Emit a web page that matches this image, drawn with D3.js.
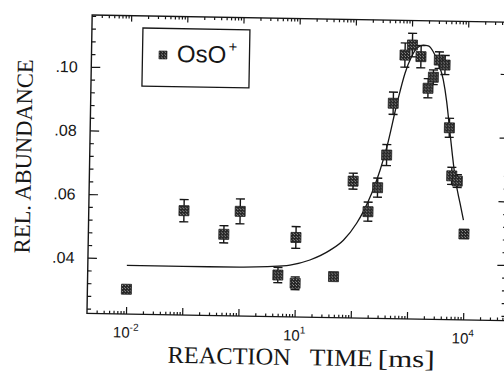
<!DOCTYPE html>
<html>
<head>
<meta charset="utf-8">
<script src="https://cdn.jsdelivr.net/npm/d3@7"></script>
<style>
body{margin:0;background:#fff;}
svg{display:block;}
</style>
</head>
<body>
<div class="canvas"></div>
<script>
//measured OsO+ points: reaction time (ms), relative abundance, error bar half-height
var times = [0.01, 0.1, 0.52, 1.0, 4.9, 10, 10, 48, 100, 188, 274, 388, 490, 766, 1030, 1475, 2015, 2483, 3133, 3980, 4970, 5660, 7140, 9750];
var abundance = [0.0303, 0.0553, 0.0481, 0.0554, 0.0356, 0.0331, 0.0475, 0.0354, 0.0655, 0.0560, 0.0636, 0.0739, 0.0902, 0.1054, 0.1086, 0.1050, 0.0951, 0.0986, 0.1040, 0.1025, 0.0828, 0.0677, 0.0661, 0.0495];
var errors = [0, 0.0035, 0.0027, 0.0039, 0.0024, 0.002, 0.0034, 0, 0.0025, 0.003, 0.003, 0.0033, 0.0035, 0.0038, 0.0037, 0.0035, 0.003, 0.0023, 0.0026, 0.003, 0.003, 0.0027, 0.002, 0.0012];

//fitted curve
var fitTimes = [0.01, 0.1, 1, 3.2, 8, 18, 41, 70, 119, 155, 216, 299, 386, 580, 776, 1000, 1233, 1607, 1972, 2432, 3013, 3741, 4365, 5012, 5754, 6607, 8128, 9441];
var fitValues = [0.0378, 0.0378, 0.0379, 0.0382, 0.0388, 0.0405, 0.0437, 0.0469, 0.0523, 0.0560, 0.0618, 0.0691, 0.0762, 0.0907, 0.0997, 0.1049, 0.1076, 0.1086, 0.1084, 0.1066, 0.1030, 0.0978, 0.0910, 0.0825, 0.0740, 0.0665, 0.0591, 0.0539];

//axis labelling
var yTickValues = [0.04, 0.06, 0.08, 0.10];
var yTickLabels = ['.04', '.06', '.08', '.10'];
var xLabelExponents = ['-2', '1', '4'];
var seriesName = 'OsO';
var seriesCharge = '+';

var pageWidth = 504, pageHeight = 374;
var plot = {l:89.5, r:508, t:18.5, b:317};
var ink = '#161616';

var svg = d3.select('.canvas')
    .append('svg')
    .attr('width', pageWidth)
    .attr('height', pageHeight);

//grainy fill for the square markers
var pat = svg.append('defs').append('pattern')
    .attr('id', 'stipple')
    .attr('width', 3).attr('height', 3)
    .attr('patternUnits', 'userSpaceOnUse');
pat.append('rect').attr('width', 3).attr('height', 3).attr('fill', '#262626');
pat.append('rect').attr('x', 1).attr('y', 0).attr('width', 1).attr('height', 1).attr('fill', '#9a9a9a');
pat.append('rect').attr('x', 0).attr('y', 2).attr('width', 1).attr('height', 1).attr('fill', '#777');

//the scanned figure sits tilted by about one degree
var chart = svg.append('g').attr('transform', 'rotate(1,295,170)');

var x = d3.scaleLog().domain([0.00202, 56600]).range([plot.l, plot.r]);
var y = d3.scaleLinear().domain([0.0225, 0.1163]).range([plot.b, plot.t]);

function isDecade(d){
    var e = Math.log10(d);
    return Math.abs(e - Math.round(e)) < 1e-6;
}
function isMajorY(d){
    return Math.abs(d / 0.02 - Math.round(d / 0.02)) < 1e-6;
}

//frame
chart.append('rect')
    .attr('x', plot.l).attr('y', plot.t)
    .attr('width', plot.r - plot.l).attr('height', plot.b - plot.t)
    .attr('fill', 'none').attr('stroke', ink).attr('stroke-width', 1.4);

//log ticks along bottom and top, pointing inward
var xTicks = x.ticks();
var bottomAxis = chart.append('g')
    .attr('transform', 'translate(0,' + plot.b + ')')
    .call(d3.axisBottom(x).tickValues(xTicks).tickSize(-3).tickFormat(''));
bottomAxis.selectAll('.tick line').attr('y2', function(d){ return isDecade(d) ? -7 : -3; });

var topAxis = chart.append('g')
    .attr('transform', 'translate(0,' + plot.t + ')')
    .call(d3.axisTop(x).tickValues(xTicks).tickSize(-3).tickFormat(''));
topAxis.selectAll('.tick line').attr('y2', function(d){ return isDecade(d) ? 6 : 3; });

//linear ticks left and right, minor every .004
var yTicks = d3.range(6, 30).map(function(k){ return k * 0.004; });
var leftAxis = chart.append('g')
    .attr('transform', 'translate(' + plot.l + ',0)')
    .call(d3.axisLeft(y).tickValues(yTicks).tickSize(-4).tickFormat(''));
leftAxis.selectAll('.tick line').attr('x2', function(d){ return isMajorY(d) ? 9 : 4; });

var rightAxis = chart.append('g')
    .attr('transform', 'translate(' + plot.r + ',0)')
    .call(d3.axisRight(y).tickValues(yTicks).tickSize(-4).tickFormat(''));
rightAxis.selectAll('.tick line').attr('x2', function(d){ return isMajorY(d) ? -9 : -4; });

chart.selectAll('.domain').remove();
chart.selectAll('.tick line').attr('stroke', ink).attr('stroke-width', 1.2);

//tick labels
chart.append('g').selectAll('text')
    .data(yTickValues)
    .enter().append('text')
    .attr('x', 76)
    .attr('y', function(d){ return y(d); })
    .attr('dy', '0.36em')
    .attr('text-anchor', 'end')
    .style('font-family', 'Liberation Sans, Arial, sans-serif')
    .style('font-size', '16px')
    .attr('fill', ink)
    .text(function(d, i){ return yTickLabels[i]; });

var xLabels = chart.append('g').selectAll('text')
    .data(xLabelExponents)
    .enter().append('text')
    .attr('x', function(d){ return x(Math.pow(10, +d)); })
    .attr('y', 340.5)
    .attr('text-anchor', 'middle')
    .style('font-family', 'Liberation Sans, Arial, sans-serif')
    .style('font-size', '15px')
    .attr('fill', ink);
xLabels.append('tspan').text('10');
xLabels.append('tspan')
    .attr('dy', -7)
    .style('font-size', '10px')
    .text(function(d){ return d; });

//axis titles
var titleFont = 'Liberation Serif, Times New Roman, serif';
var xTitle = chart.append('text')
    .attr('y', 365)
    .style('font-family', titleFont)
    .style('font-size', '24px')
    .attr('fill', ink);
xTitle.append('tspan').attr('x', 171).attr('textLength', 123).attr('lengthAdjust', 'spacingAndGlyphs').text('REACTION');
xTitle.append('tspan').attr('x', 313).attr('textLength', 63).attr('lengthAdjust', 'spacingAndGlyphs').text('TIME');
xTitle.append('tspan').attr('x', 381).attr('textLength', 57).attr('lengthAdjust', 'spacingAndGlyphs').text('[ms]');

chart.append('text')
    .attr('transform', 'translate(31,161) rotate(-90)')
    .attr('text-anchor', 'middle')
    .attr('textLength', 194)
    .attr('lengthAdjust', 'spacingAndGlyphs')
    .style('font-family', titleFont)
    .style('font-size', '23px')
    .attr('fill', ink)
    .text('REL. ABUNDANCE');

//fitted curve
var fit = fitTimes.map(function(t, i){ return [t, fitValues[i]]; });
var line = d3.line()
    .x(function(d){ return x(d[0]); })
    .y(function(d){ return y(d[1]); })
    .curve(d3.curveMonotoneX);
chart.append('path')
    .datum(fit)
    .attr('d', line)
    .attr('fill', 'none')
    .attr('stroke', ink)
    .attr('stroke-width', 1.3);

//error bars
var points = times.map(function(t, i){ return {t:t, v:abundance[i], e:errors[i]}; });
var bars = chart.append('g').selectAll('g')
    .data(points.filter(function(d){ return d.e > 0; }))
    .enter().append('g')
    .attr('stroke', ink)
    .attr('stroke-width', 1.4);
bars.append('line')
    .attr('x1', function(d){ return x(d.t); })
    .attr('x2', function(d){ return x(d.t); })
    .attr('y1', function(d){ return y(d.v - d.e); })
    .attr('y2', function(d){ return y(d.v + d.e); });
[-1, 1].forEach(function(s){
    bars.append('line')
        .attr('x1', function(d){ return x(d.t) - 4.5; })
        .attr('x2', function(d){ return x(d.t) + 4.5; })
        .attr('y1', function(d){ return y(d.v + s * d.e); })
        .attr('y2', function(d){ return y(d.v + s * d.e); });
});

//square markers
chart.append('g').selectAll('rect')
    .data(points)
    .enter().append('rect')
    .attr('x', function(d){ return x(d.t) - 5; })
    .attr('y', function(d){ return y(d.v) - 5; })
    .attr('width', 10)
    .attr('height', 10)
    .attr('fill', 'url(#stipple)')
    .attr('stroke', '#1e1e1e')
    .attr('stroke-width', 0.8);

//legend
var legend = chart.append('g');
legend.append('rect')
    .attr('x', 140.5).attr('y', 30.7)
    .attr('width', 107).attr('height', 58)
    .attr('fill', '#fff')
    .attr('stroke', ink).attr('stroke-width', 1.3);
legend.append('rect')
    .attr('x', 157).attr('y', 53.3)
    .attr('width', 8).attr('height', 8)
    .attr('fill', 'url(#stipple)')
    .attr('stroke', '#1e1e1e').attr('stroke-width', 0.6);
var legendText = legend.append('text')
    .attr('x', 175).attr('y', 64)
    .style('font-family', 'Liberation Sans, Arial, sans-serif')
    .style('font-size', '24px')
    .attr('fill', ink);
legendText.append('tspan').text(seriesName);
legendText.append('tspan')
    .attr('dy', -11)
    .attr('dx', 2)
    .style('font-size', '15px')
    .text(seriesCharge);
</script>
</body>
</html>
